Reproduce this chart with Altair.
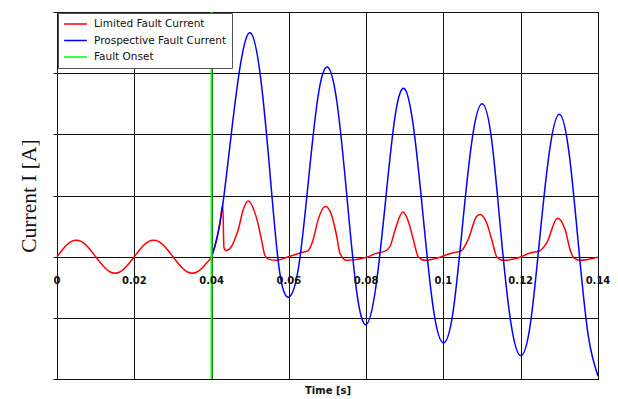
import altair as alt
import pandas as pd

# ---------------- data ----------------
series_names = ["Limited Fault Current", "Prospective Fault Current", "Fault Onset"]
series_colors = ["#ff0000", "#0000ff", "#00ff00"]

red_t = [0.0, 0.00125, 0.0025, 0.00375, 0.005, 0.00625, 0.0075, 0.00875, 0.01,
         0.01125, 0.0125, 0.01375, 0.015, 0.01625, 0.0175, 0.01875, 0.02,
         0.02125, 0.0225, 0.02375, 0.025, 0.02625, 0.0275, 0.02875, 0.03,
         0.03125, 0.0325, 0.03375, 0.035, 0.03625, 0.0375, 0.03875, 0.04,
         0.0413, 0.0421, 0.0429, 0.0432, 0.0437, 0.0445, 0.0452, 0.0460, 0.0469,
         0.0482, 0.0495, 0.0512, 0.0521, 0.0530, 0.0538, 0.0547, 0.0569, 0.0599,
         0.0629, 0.0650, 0.0663, 0.0676, 0.0694, 0.0707, 0.0715, 0.0724, 0.0732,
         0.0749, 0.0802, 0.0823, 0.0849, 0.0862, 0.0875, 0.0895, 0.0909, 0.0922,
         0.0935, 0.0952, 0.0991, 0.1008, 0.1030, 0.1047, 0.1064, 0.1086, 0.1095,
         0.1112, 0.1125, 0.1138, 0.1155, 0.1198, 0.1224, 0.1250, 0.1267, 0.1295,
         0.1315, 0.1328, 0.1337, 0.1354, 0.1400]
red_v = [0.0, 0.10, 0.19, 0.25, 0.27, 0.25, 0.19, 0.10, 0.0,
         -0.10, -0.19, -0.25, -0.27, -0.25, -0.19, -0.10, 0.0,
         0.10, 0.19, 0.25, 0.27, 0.25, 0.19, 0.10, 0.0,
         -0.10, -0.19, -0.25, -0.27, -0.25, -0.19, -0.10, 0.0,
         0.28, 0.53, 0.85, 0.15, 0.10, 0.12, 0.17, 0.28, 0.44,
         0.77, 0.91, 0.72, 0.52, 0.25, 0.02, -0.04, -0.06, 0.00,
         0.06, 0.10, 0.28, 0.61, 0.82, 0.74, 0.58, 0.33, 0.06,
         -0.06, -0.01, 0.05, 0.09, 0.17, 0.44, 0.73, 0.58, 0.28,
         0.00, -0.06, -0.01, 0.03, 0.07, 0.10, 0.28, 0.66, 0.69,
         0.55, 0.28, 0.00, -0.06, -0.01, 0.06, 0.10, 0.22, 0.63,
         0.44, 0.11, -0.02, -0.06, -0.01]

blue_t = [0.0400, 0.0413, 0.0429, 0.0450, 0.0475, 0.0500, 0.0525, 0.0550, 0.0575,
          0.0600, 0.0625, 0.0650, 0.0675, 0.0700, 0.0725, 0.0750, 0.0775, 0.0800,
          0.0825, 0.0850, 0.0875, 0.0900, 0.0925, 0.0950, 0.0975, 0.1000, 0.1025,
          0.1050, 0.1075, 0.1100, 0.1125, 0.1150, 0.1175, 0.1200, 0.1225, 0.1250,
          0.1275, 0.1300, 0.1325, 0.1350, 0.1375, 0.1400]
blue_v = [0.00, 0.28, 0.85, 1.95, 3.15, 3.66, 3.02, 1.45, -0.20,
          -0.66, -0.18, 1.20, 2.60, 3.10, 2.50, 1.00, -0.55, -1.11,
          -0.50, 0.90, 2.30, 2.74, 2.00, 0.50, -0.90, -1.41, -0.90,
          0.55, 1.95, 2.50, 1.90, 0.30, -1.10, -1.62, -1.10, 0.35,
          1.75, 2.33, 1.70, 0.15, -1.30, -1.95]

fault_onset = [0.04]
x_ticks = [0.0, 0.02, 0.04, 0.06, 0.08, 0.10, 0.12, 0.14]
x_tick_labels = ["0", "0.02", "0.04", "0.06", "0.08", "0.1", "0.12", "0.14"]
y_ticks = [-2, -1, 0, 1, 2, 3, 4]

# ---------------- tables ----------------
red_df = pd.DataFrame({"t": red_t, "i": red_v, "series": series_names[0]})
blue_df = pd.DataFrame({"t": blue_t, "i": blue_v, "series": series_names[1]})
onset_df = pd.DataFrame({"t": fault_onset, "series": [series_names[2]]})
labels_df = pd.DataFrame({"t": x_ticks, "label": x_tick_labels})

W, H = 541, 367

x_scale = alt.Scale(domain=[0, 0.14], nice=False, zero=False)
y_scale = alt.Scale(domain=[-2, 4], nice=False, zero=False)

color = alt.Color(
    "series:N",
    scale=alt.Scale(domain=series_names, range=series_colors),
    legend=alt.Legend(
        title=None, orient="top-left", offset=1,
        fillColor="white", strokeColor="#555555", padding=5,
        symbolType="stroke", symbolSize=520, symbolStrokeWidth=1.5,
        labelFont="DejaVu Sans", labelFontSize=10.5, labelColor="#111111",
        labelOffset=6, rowPadding=4.5, clipHeight=12,
    ),
)

x_axis = alt.Axis(
    values=x_ticks, labels=False, ticks=False, title="Time [s]",
    titleFont="DejaVu Sans", titleFontSize=10, titleFontWeight="bold",
    titleColor="#111111", titleY=11, titleBaseline="middle",
    grid=True, gridColor="#111111", gridOpacity=1, gridWidth=1,
    domainColor="#111111",
)
y_axis = alt.Axis(
    values=y_ticks, labels=False, ticks=True, tickSize=4, tickColor="#111111",
    title="Current I [A]", titleFont="Liberation Serif", titleFontSize=21.5,
    titleFontWeight="normal", titleColor="#111111",
    titleX=-28, titleY=H / 2, titleAlign="center", titleBaseline="middle",
    grid=True, gridColor="#111111", gridOpacity=1, gridWidth=1,
    domainColor="#111111",
)

red = alt.Chart(red_df).mark_line(interpolate="monotone", strokeWidth=1.5).encode(
    x=alt.X("t:Q", scale=x_scale, axis=x_axis),
    y=alt.Y("i:Q", scale=y_scale, axis=y_axis),
    color=color,
    order="t:Q",
)
blue = alt.Chart(blue_df).mark_line(interpolate="natural", strokeWidth=1.5).encode(
    x="t:Q", y="i:Q", color=color, order="t:Q",
)
onset = alt.Chart(onset_df).mark_rule(strokeWidth=2).encode(
    x="t:Q", color=color,
)
labels = alt.Chart(labels_df).mark_text(
    font="DejaVu Sans", fontWeight="bold", fontSize=10, dy=24, color="#111111",
).encode(
    x="t:Q", y=alt.datum(0), text="label:N",
)

chart = alt.layer(red, blue, onset, labels).properties(
    width=W, height=H,
    autosize=alt.AutoSizeParams(type="none"),
    padding={"left": 49, "top": 4, "right": 12, "bottom": 20},
).configure_view(stroke="#111111", strokeWidth=1)

chart.save("out.html", embed_options={"renderer": "svg", "actions": False})
